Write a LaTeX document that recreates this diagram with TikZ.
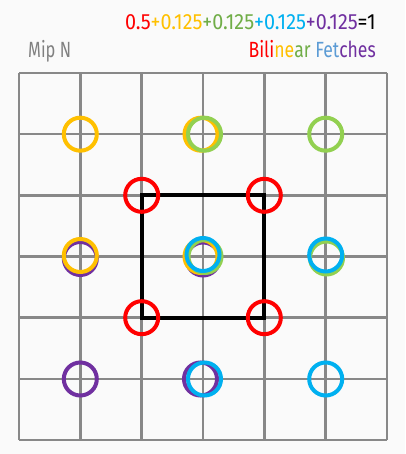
\documentclass[tikz,border=0pt]{standalone}
\usepackage{fontspec}
\setmainfont{Fira Sans}
\usepackage{graphicx}
\definecolor{bg}{HTML}{FAFAFA}
\definecolor{gridc}{HTML}{888888}
\definecolor{cred}{HTML}{FF0000}
\definecolor{cyel}{HTML}{FFC000}
\definecolor{cgrn}{HTML}{92D050}
\definecolor{tgrn}{HTML}{70AD47}
\definecolor{cblu}{HTML}{00B0F0}
\definecolor{tblu}{HTML}{5B9BD5}
\definecolor{cpur}{HTML}{7030A0}
\definecolor{mipc}{HTML}{808080}
\begin{document}
\begin{tikzpicture}[x=1pt,y=-1pt,
  ring/.style={circle,draw=#1,line width=4pt,minimum size=33pt,inner sep=0pt},
  gridline/.style={draw=gridc,line width=2.5pt},
  lbl/.style={inner sep=0pt,font=\fontsize{22}{22}\selectfont}]
\fill[bg] (0,0) rectangle (405,454);
\useasboundingbox (0,0) rectangle (405,454);
% grid
\foreach \i in {0,...,6}{
  \draw[gridline] (19+61.33*\i,73) -- (19+61.33*\i,440);
  \draw[gridline] (19,73+61.17*\i) -- (387,73+61.17*\i);
}
% black square
\coordinate (sqa) at (141.7,195.3);
\coordinate (sqb) at (264.3,317.7);
\draw[black,line width=4pt] (sqa) rectangle (sqb);
% purple
\node[ring=cpur] (p1) at (80.3,258.5) {};
\node[ring=cpur] (p2) at (203,259) {};
\node[ring=cpur] (p3) at (80.3,379) {};
\node[ring=cpur] (p4) at (200.5,379) {};
% yellow
\node[ring=cyel] (y1) at (80.3,134.2) {};
\node[ring=cyel] (y2) at (201,134.2) {};
\node[ring=cyel] (y3) at (80.3,255.5) {};
\node[ring=cyel] (y4) at (201,256.5) {};
% green
\node[ring=cgrn] (g1) at (204.5,134.2) {};
\node[ring=cgrn] (g2) at (325.7,134.2) {};
\node[ring=cgrn] (g3) at (205,256.5) {};
\node[ring=cgrn] (g4) at (326.5,258) {};
% blue
\node[ring=cblu] (b1) at (203,254.5) {};
\node[ring=cblu] (b2) at (325.7,255) {};
\node[ring=cblu] (b3) at (204.5,379) {};
\node[ring=cblu] (b4) at (325.7,379) {};
% red
\node[ring=cred] (r1) at (141.7,195.3) {};
\node[ring=cred] (r2) at (264.3,195.3) {};
\node[ring=cred] (r3) at (141.7,317.7) {};
\node[ring=cred] (r4) at (264.3,317.7) {};
% texts
\node[lbl,anchor=base east] (sum) at (376,30) {\scalebox{0.9}[1]{\textcolor{cred}{0.5}\textcolor{cyel}{+0.125}\textcolor{tgrn}{+0.125}\textcolor{cblu}{+0.125}\textcolor{cpur}{+0.125}\textcolor{black}{=1}}};
\node[lbl,anchor=base east] (bil) at (376,58) {\scalebox{0.8}[1]{\textcolor{cred}{Bili}\textcolor{cyel}{ne}\textcolor{tgrn}{ar} \textcolor{tblu}{Fet}\textcolor{cpur}{ches}}};
\node[lbl,anchor=base west,text=mipc] (mip) at (28,58) {\scalebox{0.75}[1]{Mip N}};
\end{tikzpicture}
\end{document}
